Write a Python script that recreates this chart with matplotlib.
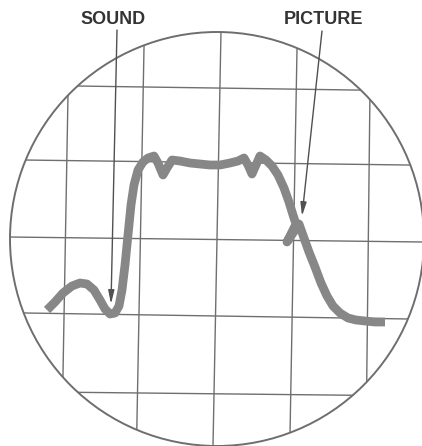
import matplotlib
matplotlib.use("Agg")
import matplotlib.pyplot as plt
from matplotlib.patches import Circle
import numpy as np

# ---- data (pixel coordinates of the scanned oscillogram) ----
trace_x = [47, 55, 63, 72, 80, 87, 94, 100, 105, 110, 115, 119, 122, 125, 128, 131, 134, 138,
           143, 148, 154, 158, 163, 167, 172, 180, 190, 200, 210, 220, 230, 238, 244, 248,
           252, 256, 260, 266, 272, 278, 284, 289, 293, 296, 287, 293, 299, 304, 309, 315,
           321, 327, 333, 340, 348, 356, 365, 375, 385]
trace_y = [310, 302, 293, 286, 283, 284, 290, 300, 309, 314, 313, 306, 290, 265, 235, 205, 185, 170,
           162, 158, 156, 163, 175, 168, 160, 161, 163, 164, 165, 165, 163, 161, 158, 165,
           174, 165, 156, 160, 166, 175, 188, 202, 215, 224, 242, 233, 224, 238, 252, 267,
           283, 296, 306, 313, 318, 320, 321, 322, 322]

# vertical grid lines: x at top (y=0) and at bottom (y=446)
vgrid_top = [69.7, 144.9, 221.6, 297.9, 371.0]
vgrid_bot = [61.7, 136.5, 213.0, 289.8, 366.0]
# horizontal grid lines: y at left (x=0) and at right (x=422)
hgrid_left = [84.9, 159.7, 236.9, 312.6, 391.5]
hgrid_right = [91.0, 165.2, 242.0, 319.2, 396.0]

labels = ["SOUND", "PICTURE"]
label_pos = [(113.5, 19.5), (323.5, 19.5)]
arrow_start = [(117, 30), (322, 31)]
arrow_end = [(111, 304), (302, 216)]

W, H = 422, 446
fig = plt.figure(figsize=(W / 100, H / 100), dpi=100)
ax = fig.add_axes([0, 0, 1, 1])
ax.set_xlim(0, W)
ax.set_ylim(H, 0)
ax.axis("off")

cx, cy, r = 217, 239, 207
circ = Circle((cx, cy), r, fill=False, edgecolor="#6e6e6e", lw=1.4, zorder=3)
ax.add_patch(circ)

grid_col = "#6f6f6f"
for xt, xb in zip(vgrid_top, vgrid_bot):
    ln, = ax.plot([xt, xb], [0, H], color=grid_col, lw=1.0, zorder=2)
    ln.set_clip_path(circ)
for yl, yr in zip(hgrid_left, hgrid_right):
    ln, = ax.plot([0, W], [yl, yr], color=grid_col, lw=1.0, zorder=2)
    ln.set_clip_path(circ)

ax.plot(trace_x, trace_y, color="#878787", lw=6.3, solid_capstyle="butt",
        solid_joinstyle="round", zorder=4)

for s, e in zip(arrow_start, arrow_end):
    ax.annotate("", xy=e, xytext=s,
                arrowprops=dict(arrowstyle="-|>,head_width=0.18,head_length=0.8",
                                color="#505050", lw=1.0, shrinkA=0, shrinkB=0),
                zorder=5)

for t, (x, y) in zip(labels, label_pos):
    ax.text(x, y, t, ha="center", va="center", fontsize=13, fontweight="bold",
            family=["Liberation Sans", "DejaVu Sans"], color="#333333", zorder=6)

fig.savefig("out.png", dpi=100)
